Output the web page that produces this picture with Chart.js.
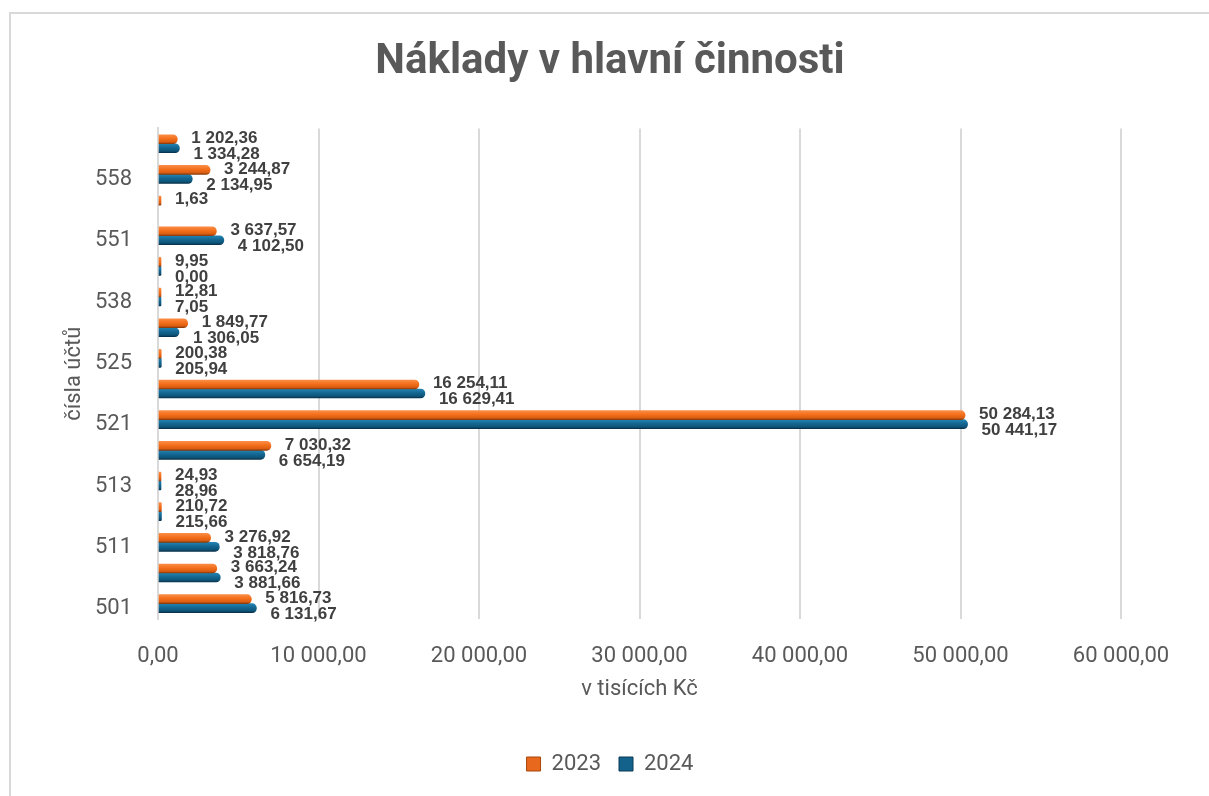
<!DOCTYPE html>
<html lang="cs">
<head>
<meta charset="utf-8">
<title>Náklady v hlavní činnosti</title>
<script src="https://cdn.jsdelivr.net/npm/chart.js@4/dist/chart.umd.min.js"></script>
<style>
    html, body { margin: 0; padding: 0; background: #fff; }
    #wrap {
        position: absolute; left: 9px; top: 12px;
        width: 1210px; height: 800px;
        border-left: 2px solid #d9d9d9; border-top: 2px solid #d9d9d9;
    }
    canvas { display: block; }
</style>
</head>
<body>
<div id="wrap"><canvas id="myChart" width="1198" height="782"></canvas></div>
<script>
// data (odspodu nahoru)
const accounts = ['501', '502', '511', '512', '513', '518', '521', '524', '525', '527', '538', '549', '551', '556', '558', '559'];
const shownAccounts = ['501', '511', '513', '521', '525', '538', '551', '558'];
const values2023 = [5816.73, 3663.24, 3276.92, 210.72, 24.93, 7030.32, 50284.13, 16254.11, 200.38, 1849.77, 12.81, 9.95, 3637.57, 1.63, 3244.87, 1202.36];
const values2024 = [6131.67, 3881.66, 3818.76, 215.66, 28.96, 6654.19, 50441.17, 16629.41, 205.94, 1306.05, 7.05, 0.00, 4102.50, null, 2134.95, 1334.28];
const xMin = 0, xMax = 60000, xStep = 10000;

const textColor = '#595959';
const barT = 9; // tloustka sloupce

// cesky format cisla: 50 284,13
function czNum(v) {
    const parts = Number(v).toFixed(2).split('.');
    return parts[0].replace(/\B(?=(\d{3})+(?!\d))/g, ' ') + ',' + parts[1];
}

// gradient pro "valcove" sloupce
function barFill(c, stops) {
    if (c.type !== 'data') return stops[1];
    const y = c.chart.scales.y;
    if (!y || y.top === undefined) return stops[1];
    const p = y.getPixelForValue(c.index);
    const top = c.datasetIndex === 0 ? p - barT : p;
    const g = c.chart.ctx.createLinearGradient(0, top, 0, top + barT);
    g.addColorStop(0, stops[0]);
    g.addColorStop(0.45, stops[1]);
    g.addColorStop(0.8, stops[2]);
    g.addColorStop(1, stops[3]);
    return g;
}
const orangeStops = ['#FA8C45', '#F36E1A', '#DB5E12', '#8A3A0B'];
const blueStops = ['#2383B2', '#136690', '#0E5479', '#07304A'];

// hodnoty vedle sloupcu
const valueLabels = {
    id: 'valueLabels',
    afterDatasetsDraw(chart) {
        const ctx = chart.ctx;
        ctx.save();
        ctx.font = 'bold 17px "Liberation Sans", Arial, sans-serif';
        ctx.fillStyle = '#404040';
        ctx.textBaseline = 'middle';
        ctx.textAlign = 'left';
        chart.data.datasets.forEach((ds, di) => {
            const meta = chart.getDatasetMeta(di);
            meta.data.forEach((bar, i) => {
                const v = ds.data[i];
                if (v === null || v === undefined) return;
                ctx.fillText(czNum(v), bar.x + 14, bar.y + (di === 0 ? -1 : 6));
            });
        });
        ctx.restore();
    }
};

const axisFont = { family: 'Roboto', size: 22 };

new Chart(document.getElementById('myChart'), {
    type: 'bar',
    data: {
        labels: accounts,
        datasets: [
            {
                label: '2023',
                data: values2023,
                backgroundColor: c => barFill(c, orangeStops),
                borderWidth: 0,
                borderRadius: 4.5,
                barThickness: barT,
                minBarLength: 3
            },
            {
                label: '2024',
                data: values2024,
                backgroundColor: c => barFill(c, blueStops),
                borderWidth: 0,
                borderRadius: 4.5,
                barThickness: barT,
                minBarLength: 3
            }
        ]
    },
    options: {
        indexAxis: 'y',
        responsive: false,
        animation: false,
        layout: { padding: { left: 0, right: 0, top: 0, bottom: 11 } },
        plugins: {
            title: {
                display: true,
                text: 'Náklady v hlavní činnosti',
                color: textColor,
                font: { family: 'Roboto', size: 42, weight: 'bold' },
                padding: { top: 23, bottom: 41 }
            },
            legend: {
                position: 'bottom',
                labels: {
                    color: textColor,
                    font: axisFont,
                    boxWidth: 14,
                    boxHeight: 14,
                    padding: 18,
                    generateLabels: chart => chart.data.datasets.map((ds, i) => ({
                        text: ds.label,
                        fillStyle: i === 0 ? '#E8681E' : '#13628C',
                        strokeStyle: i === 0 ? '#A9470E' : '#0A3B56',
                        lineWidth: 1,
                        fontColor: textColor,
                        datasetIndex: i
                    }))
                }
            },
            tooltip: { enabled: false }
        },
        scales: {
            x: {
                min: xMin, max: xMax,
                ticks: { stepSize: xStep, color: textColor, font: axisFont, padding: 24, maxRotation: 0, callback: v => czNum(v) },
                grid: { color: '#d9d9d9', lineWidth: 2, drawTicks: false },
                border: { display: false },
                title: { display: true, text: 'v tisících Kč', color: textColor, font: axisFont, padding: { top: 10, bottom: 32 } },
                afterFit: s => { s.height = 116; }
            },
            y: {
                reverse: true,
                grid: { display: false },
                border: { display: true, color: '#d9d9d9', width: 2 },
                ticks: {
                    autoSkip: false, color: textColor, font: axisFont, padding: 18, labelOffset: 5,
                    callback: v => shownAccounts.includes(accounts[v]) ? accounts[v] : ''
                },
                title: { display: true, text: 'čísla účtů', color: textColor, font: axisFont, padding: { top: 50, bottom: 0 } },
                afterFit: s => { s.width = 147; }
            },
            // prazdna osa vpravo, jen kvuli mistu (titulek a legenda zustanou na stredu)
            yRight: {
                type: 'category',
                axis: 'y',
                position: 'right',
                grid: { display: false },
                border: { display: false },
                ticks: { display: false },
                afterFit: s => { s.width = 88; }
            }
        }
    },
    plugins: [valueLabels]
});
</script>
</body>
</html>
